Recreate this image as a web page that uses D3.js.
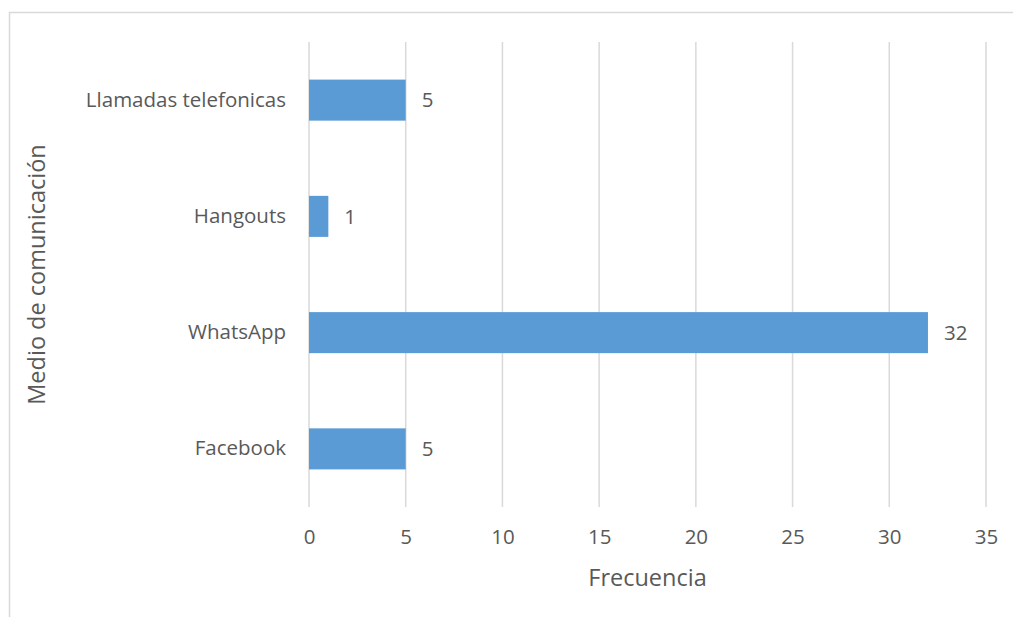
<!DOCTYPE html>
<html>
<head>
<meta charset="utf-8">
<script src="https://cdn.jsdelivr.net/npm/d3@7"></script>
<style>
  body { margin: 0; background: #fff; }
  text { font-family: "Open Sans", sans-serif; fill: #595959; }
</style>
</head>
<body>
<div id="chart"></div>
<script>
// chart data
const categories = ["Llamadas telefonicas", "Hangouts", "WhatsApp", "Facebook"];
const values = [5, 1, 32, 5];
const xTicks = [0, 5, 10, 15, 20, 25, 30, 35];

const W = 1013, H = 617;
const margin = {top: 42, right: 27, bottom: 110, left: 309},
    width = W - margin.left - margin.right,
    height = H - margin.top - margin.bottom;

const svg = d3.select("#chart")
    .append("svg")
    .attr("width", W)
    .attr("height", H);

// outer chart border
svg.append("rect")
    .attr("x", 9.5)
    .attr("y", 12.5)
    .attr("width", W + 20)
    .attr("height", H + 20)
    .attr("fill", "none")
    .attr("stroke", "#d9d9d9")
    .attr("stroke-width", 1.5);

const g = svg.append("g")
    .attr("transform", `translate(${margin.left},${margin.top})`);

const x = d3.scaleLinear().domain([0, 35]).range([0, width]);
const y = d3.scaleBand().domain(categories).range([0, height])
    .paddingInner(0.647).paddingOuter(0.3235);

// gridlines
g.append("g")
    .selectAll("line")
    .data(xTicks)
    .enter()
    .append("line")
    .attr("x1", d => x(d))
    .attr("x2", d => x(d))
    .attr("y1", 0)
    .attr("y2", height)
    .attr("stroke", "#d9d9d9")
    .attr("stroke-width", 1.5);

// bars
g.selectAll(".bar")
    .data(values)
    .enter()
    .append("rect")
    .attr("class", "bar")
    .attr("x", 0)
    .attr("y", (d, i) => y(categories[i]))
    .attr("width", d => x(d))
    .attr("height", y.bandwidth())
    .attr("fill", "#5b9bd5");

// value labels
g.selectAll(".val")
    .data(values)
    .enter()
    .append("text")
    .attr("class", "val")
    .attr("x", d => x(d) + 16)
    .attr("y", (d, i) => y(categories[i]) + y.bandwidth() / 2)
    .attr("dy", "0.35em")
    .attr("font-size", "20.5px")
    .text(d => d);

// x axis labels
const xAxis = g.append("g")
    .attr("transform", `translate(0,${height})`)
    .call(d3.axisBottom(x).tickValues(xTicks).tickSize(0).tickPadding(22));
xAxis.select(".domain").remove();
xAxis.selectAll("text")
    .attr("font-size", "20.5px")
    .attr("font-family", "Open Sans, sans-serif")
    .attr("fill", "#595959");

// y axis labels
const yAxis = g.append("g")
    .call(d3.axisLeft(y).tickSize(0).tickPadding(23));
yAxis.select(".domain").remove();
yAxis.selectAll("text")
    .attr("font-size", "20.5px")
    .attr("font-family", "Open Sans, sans-serif")
    .attr("fill", "#595959");

// axis titles
svg.append("text")
    .attr("x", margin.left + width / 2)
    .attr("y", 586)
    .attr("text-anchor", "middle")
    .attr("font-size", "23.5px")
    .text("Frecuencia");

svg.append("text")
    .attr("transform", `translate(45,${margin.top + height / 2}) rotate(-90)`)
    .attr("text-anchor", "middle")
    .attr("font-size", "23.5px")
    .text("Medio de comunicación");
</script>
</body>
</html>
